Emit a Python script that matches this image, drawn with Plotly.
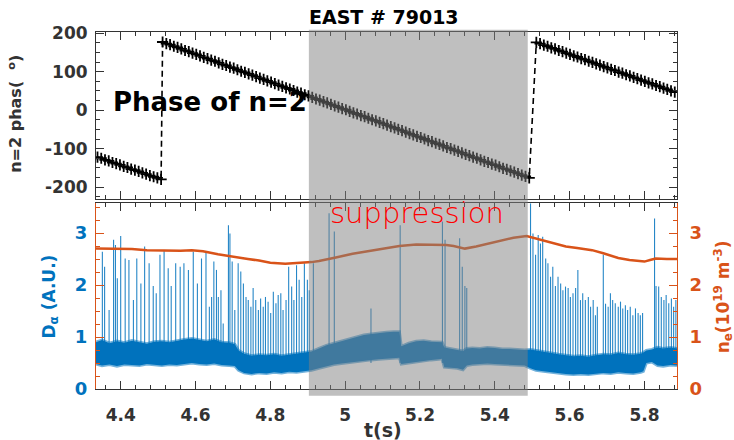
import plotly.graph_objects as go

# ---------------- data ----------------
T_RANGE = [4.334, 5.887]
SUPPRESSION = [4.903, 5.488]          # ELM suppression window (s)

# n=2 phase (deg), 10 ms samples, three segments between wraps
PHASE_DT = 0.01
PHASE_T0 = [4.338, 4.512, 5.511]
PHASE_SEG1 = [-122, -125, -129, -132, -136, -139, -142, -146, -149, -153,
              -156, -159, -163, -166, -170, -173, -176, -180]
PHASE_SEG2 = [177, 173, 170, 166, 163, 159, 155, 152, 148, 145,
              141, 137, 134, 130, 127, 123, 119, 116, 112, 109,
              105, 101, 98, 94, 91, 87, 83, 80, 76, 73,
              69, 65, 62, 58, 55, 51, 47, 44, 40, 37,
              33, 29, 26, 22, 19, 15, 11, 8, 4, 1,
              -3, -7, -10, -14, -17, -21, -25, -28, -32, -35,
              -39, -43, -46, -50, -53, -57, -61, -64, -68, -71,
              -75, -79, -82, -86, -89, -93, -97, -100, -104, -107,
              -111, -115, -118, -122, -125, -129, -133, -136, -140, -143,
              -147, -151, -154, -158, -161, -165, -169, -172, -176]
PHASE_SEG3 = [176, 173, 169, 166, 162, 159, 155, 152, 148, 145,
              141, 138, 134, 131, 127, 124, 120, 117, 113, 110,
              106, 103, 99, 96, 92, 89, 85, 82, 78, 75,
              71, 68, 64, 61, 57, 54, 50, 47]
PHASE_TICKS = [-200, -100, 0, 100, 200]

# line-averaged density (1e19 m^-3)
NE_T = [4.334, 4.36, 4.40, 4.43, 4.47, 4.52, 4.56, 4.59, 4.62, 4.66,
        4.70, 4.74, 4.77, 4.80, 4.84, 4.88, 4.91, 4.93, 4.96, 4.975,
        5.02, 5.07, 5.10, 5.145, 5.19, 5.24, 5.27, 5.29, 5.32, 5.35,
        5.38, 5.41, 5.45, 5.485, 5.50, 5.536, 5.56, 5.59, 5.62, 5.66,
        5.69, 5.73, 5.76, 5.79, 5.80, 5.815, 5.83, 5.86, 5.887]
NE_V = [2.70, 2.70, 2.69, 2.69, 2.67, 2.66, 2.66, 2.67, 2.65, 2.59,
        2.54, 2.50, 2.47, 2.43, 2.41, 2.42, 2.44, 2.46, 2.50, 2.53,
        2.60, 2.66, 2.70, 2.75, 2.78, 2.78, 2.77, 2.75, 2.70, 2.74,
        2.79, 2.85, 2.91, 2.94, 2.91, 2.85, 2.80, 2.74, 2.71, 2.67,
        2.61, 2.52, 2.48, 2.45, 2.45, 2.48, 2.51, 2.50, 2.50]

# D-alpha inter-ELM baseline band (A.U.): lower / upper envelope
DA_T = [4.334, 4.35, 4.37, 4.39, 4.41, 4.43, 4.45, 4.47, 4.49, 4.51,
        4.53, 4.55, 4.57, 4.59, 4.61, 4.63, 4.65, 4.67, 4.69, 4.705,
        4.715, 4.73, 4.75, 4.77, 4.79, 4.81, 4.83, 4.85, 4.87, 4.89,
        4.91, 4.93, 4.95, 4.97, 4.99, 5.01, 5.03, 5.05, 5.07, 5.09,
        5.11, 5.13, 5.145, 5.15, 5.17, 5.19, 5.21, 5.23, 5.25, 5.259,
        5.265, 5.28, 5.30, 5.315, 5.325, 5.34, 5.36, 5.38, 5.40, 5.42,
        5.44, 5.46, 5.48, 5.495, 5.51, 5.53, 5.55, 5.57, 5.59, 5.61,
        5.63, 5.65, 5.67, 5.69, 5.71, 5.73, 5.75, 5.77, 5.79, 5.797,
        5.805, 5.82, 5.835, 5.85, 5.87, 5.887]
DA_LO = [0.48, 0.45, 0.47, 0.44, 0.47, 0.46, 0.45, 0.48, 0.46, 0.45,
         0.47, 0.46, 0.48, 0.50, 0.48, 0.47, 0.49, 0.46, 0.45, 0.44,
         0.36, 0.31, 0.29, 0.31, 0.30, 0.32, 0.31, 0.33, 0.32, 0.34,
         0.36, 0.40, 0.44, 0.47, 0.49, 0.51, 0.53, 0.55, 0.56, 0.57,
         0.58, 0.59, 0.60, 0.48, 0.50, 0.52, 0.55, 0.56, 0.57, 0.58,
         0.42, 0.41, 0.40, 0.37, 0.45, 0.47, 0.48, 0.49, 0.48, 0.47,
         0.47, 0.46, 0.45, 0.40, 0.36, 0.34, 0.32, 0.30, 0.29, 0.28,
         0.29, 0.28, 0.30, 0.31, 0.30, 0.32, 0.31, 0.30, 0.32, 0.34,
         0.50, 0.52, 0.45, 0.44, 0.46, 0.45]
DA_HI = [0.90, 0.94, 0.88, 0.92, 0.89, 0.93, 0.90, 0.87, 0.91, 0.92,
         0.90, 0.93, 0.95, 0.97, 0.94, 0.92, 0.95, 0.90, 0.89, 0.86,
         0.74, 0.68, 0.64, 0.66, 0.65, 0.67, 0.64, 0.66, 0.68, 0.70,
         0.72, 0.78, 0.84, 0.88, 0.92, 0.96, 1.00, 1.04, 1.06, 1.08,
         1.09, 1.10, 1.10, 0.82, 0.88, 0.92, 0.93, 0.91, 0.90, 0.90,
         0.80, 0.78, 0.76, 0.73, 0.78, 0.79, 0.78, 0.80, 0.79, 0.77,
         0.77, 0.76, 0.75, 0.76, 0.74, 0.72, 0.70, 0.67, 0.65, 0.63,
         0.64, 0.62, 0.65, 0.67, 0.66, 0.69, 0.67, 0.66, 0.68, 0.70,
         0.74, 0.76, 0.80, 0.78, 0.80, 0.78]

# ELM bursts: time (s) and D-alpha peak (A.U.)
ELM_BASE = 0.5
ELM_T = [4.351, 4.357, 4.369, 4.381, 4.386, 4.391, 4.400, 4.412, 4.422, 4.434,
         4.443, 4.454, 4.464, 4.476, 4.487, 4.495, 4.505, 4.516, 4.527, 4.535,
         4.547, 4.559, 4.569, 4.581, 4.594, 4.605, 4.616, 4.628, 4.637, 4.643,
         4.649, 4.656, 4.661, 4.668, 4.674, 4.688, 4.692, 4.698, 4.705, 4.714,
         4.721, 4.728, 4.735, 4.741, 4.748, 4.754, 4.761, 4.768, 4.774, 4.781,
         4.787, 4.794, 4.801, 4.808, 4.815, 4.821, 4.828, 4.834, 4.842, 4.849,
         4.857, 4.863, 4.870, 4.877, 4.884, 4.891, 4.899, 4.904, 4.915, 4.957,
         4.971, 5.069, 5.147, 5.260, 5.267, 5.306, 5.313, 5.320, 5.325, 5.4955,
         5.502, 5.509, 5.516, 5.522, 5.528, 5.536, 5.542, 5.549, 5.555, 5.562,
         5.569, 5.576, 5.582, 5.589, 5.596, 5.602, 5.609, 5.616, 5.622, 5.629,
         5.635, 5.642, 5.650, 5.656, 5.663, 5.669, 5.674, 5.690, 5.696, 5.703,
         5.709, 5.715, 5.722, 5.730, 5.736, 5.742, 5.749, 5.755, 5.762, 5.769,
         5.776, 5.783, 5.789, 5.795, 5.827, 5.831, 5.838, 5.845, 5.852, 5.858,
         5.865, 5.872, 5.878, 5.884]
ELM_PEAK = [2.64, 2.35, 1.52, 2.87, 2.77, 2.13, 2.94, 2.51, 2.48, 1.71,
            2.51, 2.03, 2.74, 2.42, 1.98, 1.84, 2.58, 2.67, 2.32, 1.98,
            2.42, 2.35, 2.42, 2.29, 2.64, 2.03, 2.51, 2.64, 1.58, 1.77,
            2.45, 2.29, 1.77, 1.90, 1.26, 3.15, 2.99, 2.45, 1.52, 2.42,
            2.26, 2.03, 1.77, 1.71, 1.58, 1.94, 1.71, 1.52, 1.74, 1.58,
            1.77, 1.68, 1.46, 1.87, 1.65, 1.81, 1.84, 1.52, 1.71, 2.35,
            1.97, 1.71, 2.38, 2.10, 1.77, 2.42, 2.10, 1.90, 2.42, 3.38,
            3.03, 1.55, 3.15, 3.22, 2.87, 2.90, 2.35, 1.98, 1.94, 3.57,
            2.99, 2.58, 2.96, 2.80, 2.93, 2.51, 2.42, 2.16, 2.35, 1.98,
            2.16, 2.03, 1.90, 1.97, 1.94, 1.77, 1.84, 1.94, 2.29, 1.71,
            1.84, 1.71, 1.77, 1.58, 1.71, 1.42, 1.58, 2.58, 1.64, 1.58,
            1.84, 1.71, 1.65, 1.58, 1.68, 1.55, 1.61, 1.52, 1.58, 1.42,
            1.55, 1.46, 1.42, 1.46, 3.28, 1.98, 1.97, 1.77, 1.71, 1.81,
            1.65, 1.74, 1.58, 1.71]

# ---------------- styling ----------------
AX = '#333333'
BLUE = '#0072BD'
ORANGE = '#D95319'
FONT = 'DejaVu Sans'


def tfont(color=AX, size=17):
    return dict(family=FONT, size=size, color=color, weight='bold')


# ---------------- traces ----------------
ph_t, ph_v = [], []
for t0, seg in zip(PHASE_T0, [PHASE_SEG1, PHASE_SEG2, PHASE_SEG3]):
    ph_t += [round(t0 + i * PHASE_DT, 4) for i in range(len(seg))]
    ph_v += seg

elm_x, elm_y = [], []
for t, p in zip(ELM_T, ELM_PEAK):
    elm_x += [t, t, None]
    elm_y += [ELM_BASE, p, None]

fig = go.Figure()

fig.add_trace(go.Scatter(
    x=ph_t, y=ph_v, xaxis='x', yaxis='y', mode='lines+markers',
    line=dict(color='black', width=1.6, dash='6px,4px'),
    marker=dict(symbol='cross-thin', size=8, line=dict(color='black', width=1.8)),
    hoverinfo='skip'))

fig.add_trace(go.Scatter(
    x=elm_x, y=elm_y, xaxis='x2', yaxis='y2', mode='lines',
    line=dict(color='rgba(0,114,189,0.85)', width=1.1), hoverinfo='skip'))

# baseline band with soft, noisy-looking edges
fig.add_trace(go.Scatter(
    x=DA_T, y=DA_LO, xaxis='x2', yaxis='y2', mode='lines',
    line=dict(color='rgba(0,114,189,0.55)', width=3), hoverinfo='skip'))
fig.add_trace(go.Scatter(
    x=DA_T, y=DA_HI, xaxis='x2', yaxis='y2', mode='lines', fill='tonexty',
    fillcolor=BLUE, line=dict(color='rgba(0,114,189,0.55)', width=3),
    hoverinfo='skip'))

fig.add_trace(go.Scatter(
    x=NE_T, y=NE_V, xaxis='x2', yaxis='y3', mode='lines',
    line=dict(color=ORANGE, width=2.5), hoverinfo='skip'))

# ---------------- axes ----------------
xcommon = dict(range=T_RANGE, dtick=0.2, tick0=0, ticks='inside', ticklen=8,
               tickcolor=AX, tickwidth=1, showline=True, linecolor=AX, linewidth=1,
               mirror='ticks', showgrid=False, zeroline=False,
               minor=dict(dtick=0.04, ticks='inside', ticklen=4, tickcolor=AX))

fig.update_layout(
    width=734, height=440,
    margin=dict(l=96, r=57, t=32, b=51),
    paper_bgcolor='white', plot_bgcolor='white', showlegend=False,
    xaxis=dict(domain=[0, 1], anchor='y', showticklabels=False, **xcommon),
    yaxis=dict(domain=[0.532, 1], anchor='x', range=[-231, 203],
               tickvals=PHASE_TICKS, ticktext=[str(v) for v in PHASE_TICKS],
               ticks='inside', ticklen=8, tickcolor=AX, showline=True,
               linecolor=AX, linewidth=1, mirror='ticks', showgrid=False,
               zeroline=False, tickfont=tfont(), ticklabelstandoff=4,
               minor=dict(dtick=25, ticks='inside', ticklen=4, tickcolor=AX)),
    xaxis2=dict(domain=[0, 1], anchor='y2', showticklabels=True,
                tickfont=tfont(), ticklabelstandoff=11, **xcommon),
    yaxis2=dict(domain=[0, 0.52], anchor='x2', range=[0, 3.57], dtick=1,
                ticks='inside', ticklen=8, tickcolor=ORANGE, showline=True,
                linecolor=ORANGE, linewidth=1, showgrid=False, zeroline=False,
                tickfont=tfont(BLUE, 18), ticklabelstandoff=4,
                minor=dict(dtick=0.25, ticks='inside', ticklen=4, tickcolor=ORANGE)),
    yaxis3=dict(overlaying='y2', anchor='x2', side='right', range=[0, 3.57], dtick=1,
                ticks='inside', ticklen=8, tickcolor=ORANGE, showline=True,
                linecolor=ORANGE, linewidth=1, showgrid=False, zeroline=False,
                tickfont=tfont(ORANGE, 18), ticklabelstandoff=8,
                minor=dict(dtick=0.25, ticks='inside', ticklen=4, tickcolor=ORANGE)),
)

# suppression window shading across both panels
fig.add_shape(type='rect', xref='x', yref='paper',
              x0=SUPPRESSION[0], x1=SUPPRESSION[1], y0=-0.019, y1=1.006,
              fillcolor='rgba(128,128,128,0.5)', line_width=0, layer='above')

# ---------------- text ----------------
ann = [
    dict(text='EAST # 79013', x=0.495, y=1.042, font=tfont('black', 19)),
    dict(text='n=2 phas(  <sup>o</sup>)', x=-0.14, y=0.770, textangle=-90,
         font=tfont(AX, 16)),
    dict(text='D<sub>α</sub> (A.U.)', x=-0.078, y=0.258, textangle=-90,
         font=tfont(BLUE, 17)),
    dict(text='n<sub>e</sub>(10<sup>19</sup> m<sup>-3</sup>)', x=1.080, y=0.258,
         textangle=-90, font=tfont(ORANGE, 17)),
    dict(text='t(s)', x=0.4935, y=-0.115, font=tfont(AX, 19)),
    dict(text='Phase of n=2', x=0.196, y=0.804, font=tfont('black', 26)),
    dict(text='suppression', x=0.553, y=0.492,
         font=dict(family=FONT, size=29, color='#FF0000', weight=200)),
]
for a in ann:
    fig.add_annotation(xref='paper', yref='paper', showarrow=False,
                       xanchor='center', yanchor='middle', **a)

fig.write_html('out.html')
